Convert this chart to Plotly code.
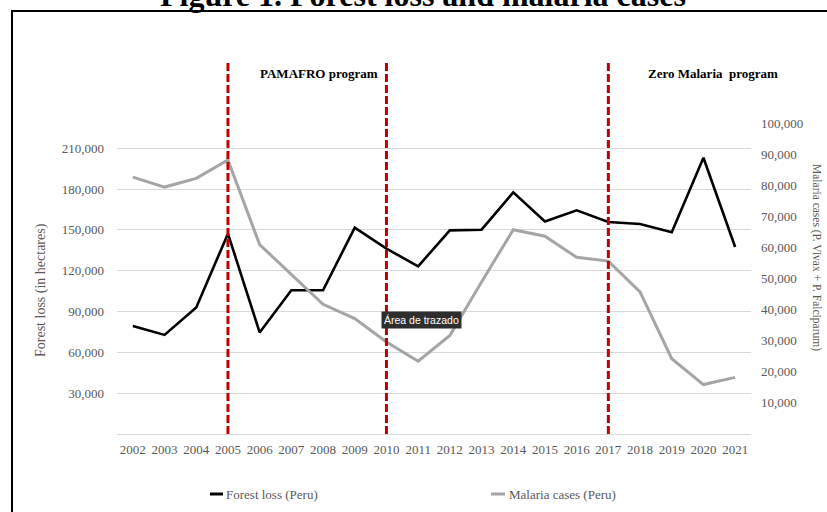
import plotly.graph_objects as go

# Data: forest loss (ha) and malaria cases in Peru, 2002-2021
years = [str(y) for y in range(2002, 2022)]
forest_loss = [79400, 72800, 92900, 147200, 74600, 105600, 105600, 151600, 136200, 123200,
               149600, 150100, 177500, 156200, 164300, 155700, 154300, 148200, 203000, 137400]
malaria_cases = [82600, 79400, 82200, 88100, 60900, 51300, 41700, 37100, 29600, 23400,
                 31700, 48900, 65700, 63600, 56800, 55600, 45700, 24200, 15900, 18200]

left_ticks = [30000, 60000, 90000, 120000, 150000, 180000, 210000]
right_ticks = [10000, 20000, 30000, 40000, 50000, 60000, 70000, 80000, 90000, 100000]
program_years = ["2005", "2010", "2017"]

W, H = 827, 512
ML, MR, MT, MB = 117, 76, 123, 78
PW, PH = W - ML - MR, H - MT - MB


def px_x(px):
    return (px - ML) / PW


def px_y(py):
    return 1 - (py - MT) / PH


SERIF = "Liberation Serif"
GREY_TXT = "#595959"

fig = go.Figure()
fig.add_trace(go.Scatter(x=years, y=forest_loss, mode="lines", name="Forest loss (Peru)",
                         line=dict(color="#000000", width=2.6), yaxis="y"))
fig.add_trace(go.Scatter(x=years, y=malaria_cases, mode="lines", name="Malaria cases (Peru)",
                         line=dict(color="#A5A5A5", width=3), yaxis="y2"))

shapes = []
# program boundaries (category index on the x axis)
for yr in program_years:
    idx = years.index(yr)
    shapes.append(dict(type="line", xref="x", yref="paper", x0=idx, x1=idx,
                       y0=0, y1=px_y(60), layer="above",
                       line=dict(color="#C00000", width=3, dash="8px,3px")))
# outer frame
shapes.append(dict(type="rect", xref="paper", yref="paper",
                   x0=px_x(12), x1=px_x(840), y0=px_y(525), y1=px_y(11),
                   line=dict(color="#000000", width=2), layer="below"))
# legend samples
shapes.append(dict(type="line", xref="paper", yref="paper", x0=px_x(210), x1=px_x(223),
                   y0=px_y(494), y1=px_y(494), line=dict(color="#000000", width=3)))
shapes.append(dict(type="line", xref="paper", yref="paper", x0=px_x(505 - 14), x1=px_x(505),
                   y0=px_y(494), y1=px_y(494), line=dict(color="#A5A5A5", width=3)))

annotations = [
    dict(text="<b>Figure 1. Forest loss and malaria cases</b>", xref="paper", yref="paper",
         x=px_x(423), y=px_y(-5), xanchor="center", yanchor="middle", showarrow=False,
         font=dict(family=SERIF, size=32, color="#000000")),
    dict(text="<b>PAMAFRO program</b>", xref="paper", yref="paper",
         x=px_x(319), y=px_y(73), xanchor="center", yanchor="middle", showarrow=False,
         font=dict(family=SERIF, size=13, color="#000000")),
    dict(text="<b>Zero Malaria&nbsp;&nbsp;program</b>", xref="paper", yref="paper",
         x=px_x(713), y=px_y(73), xanchor="center", yanchor="middle", showarrow=False,
         font=dict(family=SERIF, size=13, color="#000000")),
    dict(text="Forest loss (in hectares)", xref="paper", yref="paper",
         x=px_x(41), y=px_y(290), xanchor="center", yanchor="middle", showarrow=False,
         textangle=-90, font=dict(family=SERIF, size=14, color=GREY_TXT)),
    dict(text="Malaria cases (P. Vivax + P. Falciparum)", xref="paper", yref="paper",
         x=px_x(817), y=px_y(257), xanchor="center", yanchor="middle", showarrow=False,
         textangle=90, font=dict(family=SERIF, size=11.5, color=GREY_TXT)),
    dict(text="Forest loss (Peru)", xref="paper", yref="paper",
         x=px_x(224), y=px_y(494), xanchor="left", yanchor="middle", showarrow=False,
         font=dict(family=SERIF, size=13, color=GREY_TXT)),
    dict(text="Malaria cases (Peru)", xref="paper", yref="paper",
         x=px_x(507), y=px_y(494), xanchor="left", yanchor="middle", showarrow=False,
         font=dict(family=SERIF, size=13, color=GREY_TXT)),
    dict(text="Área de trazado", xref="paper", yref="paper",
         x=px_x(421), y=px_y(319.5), xanchor="center", yanchor="middle", showarrow=False,
         bgcolor="#2E2E2E", borderpad=2,
         font=dict(family="Liberation Sans", size=10.5, color="#FFFFFF")),
]

fig.update_layout(
    width=W, height=H,
    margin=dict(l=ML, r=MR, t=MT, b=MB, pad=0),
    paper_bgcolor="#FFFFFF", plot_bgcolor="#FFFFFF",
    showlegend=False,
    shapes=shapes, annotations=annotations,
    xaxis=dict(type="category", categoryorder="array", categoryarray=years,
               range=[-0.5, len(years) - 0.5], showgrid=False, zeroline=False,
               showline=False, ticks="", ticklabelstandoff=6,
               tickfont=dict(family=SERIF, size=13, color=GREY_TXT)),
    yaxis=dict(range=[0, 228500], tickvals=left_ticks, tickformat=",d",
               showgrid=True, gridcolor="#D9D9D9", gridwidth=1,
               zeroline=True, zerolinecolor="#D9D9D9", zerolinewidth=1,
               showline=False, ticks="", ticklabelstandoff=12,
               tickfont=dict(family=SERIF, size=13, color=GREY_TXT)),
    yaxis2=dict(range=[0, 100000], tickvals=right_ticks, tickformat=",d",
                overlaying="y", side="right", showgrid=False, zeroline=False,
                showline=False, ticks="", ticklabelstandoff=9,
                tickfont=dict(family=SERIF, size=13, color=GREY_TXT)),
)

fig.write_html("out.html")
